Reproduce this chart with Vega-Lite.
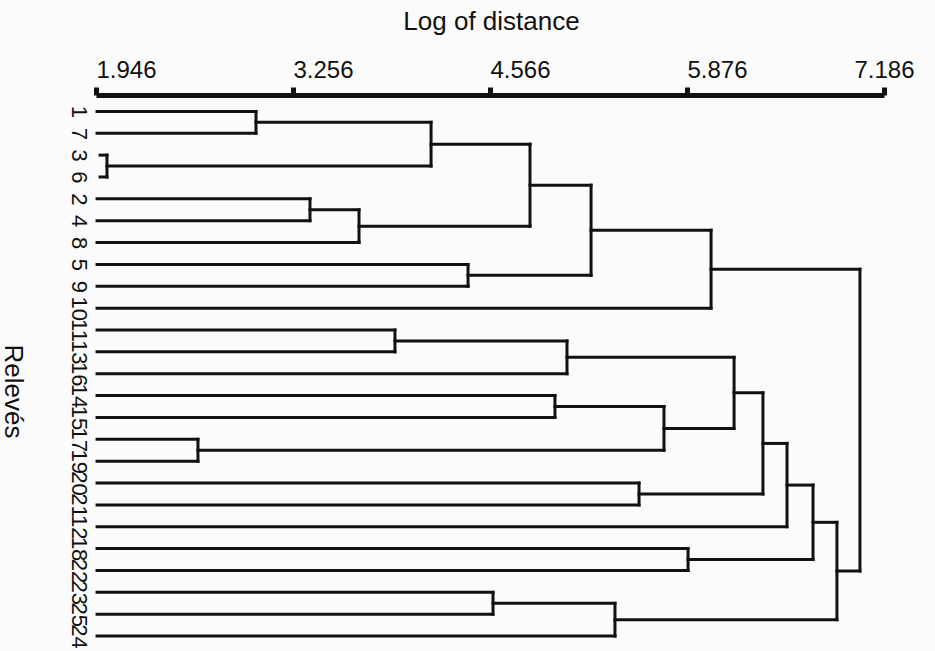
{
  "$schema": "https://vega.github.io/schema/vega-lite/v6.json",
  "autosize": "none",
  "padding": {"left": 96, "top": 95, "right": 51, "bottom": 4},
  "width": 788,
  "height": 552,
  "background": "#fbfbfb",
  "config": {"view": {"stroke": null}, "font": "Liberation Sans"},
  "data": {"values": [
    {"x1": 1.953, "x2": 3.010, "y1": 0, "y2": 0},
    {"x1": 1.953, "x2": 3.010, "y1": 1, "y2": 1},
    {"x1": 1.973, "x2": 2.019, "y1": 2, "y2": 2},
    {"x1": 1.973, "x2": 2.019, "y1": 3, "y2": 3},
    {"x1": 1.953, "x2": 3.369, "y1": 4, "y2": 4},
    {"x1": 1.953, "x2": 3.369, "y1": 5, "y2": 5},
    {"x1": 1.953, "x2": 3.695, "y1": 6, "y2": 6},
    {"x1": 1.953, "x2": 4.420, "y1": 7, "y2": 7},
    {"x1": 1.953, "x2": 4.420, "y1": 8, "y2": 8},
    {"x1": 1.953, "x2": 6.036, "y1": 9, "y2": 9},
    {"x1": 1.953, "x2": 3.934, "y1": 10, "y2": 10},
    {"x1": 1.953, "x2": 3.934, "y1": 11, "y2": 11},
    {"x1": 1.953, "x2": 5.078, "y1": 12, "y2": 12},
    {"x1": 1.953, "x2": 4.998, "y1": 13, "y2": 13},
    {"x1": 1.953, "x2": 4.998, "y1": 14, "y2": 14},
    {"x1": 1.953, "x2": 2.624, "y1": 15, "y2": 15},
    {"x1": 1.953, "x2": 2.624, "y1": 16, "y2": 16},
    {"x1": 1.953, "x2": 5.557, "y1": 17, "y2": 17},
    {"x1": 1.953, "x2": 5.557, "y1": 18, "y2": 18},
    {"x1": 1.953, "x2": 6.541, "y1": 19, "y2": 19},
    {"x1": 1.953, "x2": 5.883, "y1": 20, "y2": 20},
    {"x1": 1.953, "x2": 5.883, "y1": 21, "y2": 21},
    {"x1": 1.953, "x2": 4.586, "y1": 22, "y2": 22},
    {"x1": 1.953, "x2": 4.586, "y1": 23, "y2": 23},
    {"x1": 1.953, "x2": 5.397, "y1": 24, "y2": 24},
    {"x1": 3.010, "x2": 4.174, "y1": 0.5, "y2": 0.5},
    {"x1": 2.019, "x2": 4.174, "y1": 2.5, "y2": 2.5},
    {"x1": 4.174, "x2": 4.832, "y1": 1.5, "y2": 1.5},
    {"x1": 3.369, "x2": 3.695, "y1": 4.5, "y2": 4.5},
    {"x1": 3.695, "x2": 4.832, "y1": 5.25, "y2": 5.25},
    {"x1": 4.832, "x2": 5.238, "y1": 3.375, "y2": 3.375},
    {"x1": 4.420, "x2": 5.238, "y1": 7.5, "y2": 7.5},
    {"x1": 5.238, "x2": 6.036, "y1": 5.4375, "y2": 5.4375},
    {"x1": 6.036, "x2": 7.026, "y1": 7.21875, "y2": 7.21875},
    {"x1": 3.934, "x2": 5.078, "y1": 10.5, "y2": 10.5},
    {"x1": 5.078, "x2": 6.189, "y1": 11.25, "y2": 11.25},
    {"x1": 4.998, "x2": 5.723, "y1": 13.5, "y2": 13.5},
    {"x1": 2.624, "x2": 5.723, "y1": 15.5, "y2": 15.5},
    {"x1": 5.723, "x2": 6.189, "y1": 14.5, "y2": 14.5},
    {"x1": 6.189, "x2": 6.381, "y1": 12.875, "y2": 12.875},
    {"x1": 5.557, "x2": 6.381, "y1": 17.5, "y2": 17.5},
    {"x1": 6.381, "x2": 6.541, "y1": 15.1875, "y2": 15.1875},
    {"x1": 6.541, "x2": 6.714, "y1": 17.09375, "y2": 17.09375},
    {"x1": 5.883, "x2": 6.714, "y1": 20.5, "y2": 20.5},
    {"x1": 6.714, "x2": 6.873, "y1": 18.796875, "y2": 18.796875},
    {"x1": 4.586, "x2": 5.397, "y1": 22.5, "y2": 22.5},
    {"x1": 5.397, "x2": 6.873, "y1": 23.25, "y2": 23.25},
    {"x1": 6.873, "x2": 7.026, "y1": 21.0234, "y2": 21.0234},
    {"x1": 3.010, "x2": 3.010, "y1": 0, "y2": 1},
    {"x1": 2.019, "x2": 2.019, "y1": 2, "y2": 3},
    {"x1": 4.174, "x2": 4.174, "y1": 0.5, "y2": 2.5},
    {"x1": 3.369, "x2": 3.369, "y1": 4, "y2": 5},
    {"x1": 3.695, "x2": 3.695, "y1": 4.5, "y2": 6},
    {"x1": 4.832, "x2": 4.832, "y1": 1.5, "y2": 5.25},
    {"x1": 4.420, "x2": 4.420, "y1": 7, "y2": 8},
    {"x1": 5.238, "x2": 5.238, "y1": 3.375, "y2": 7.5},
    {"x1": 6.036, "x2": 6.036, "y1": 5.4375, "y2": 9},
    {"x1": 3.934, "x2": 3.934, "y1": 10, "y2": 11},
    {"x1": 5.078, "x2": 5.078, "y1": 10.5, "y2": 12},
    {"x1": 4.998, "x2": 4.998, "y1": 13, "y2": 14},
    {"x1": 2.624, "x2": 2.624, "y1": 15, "y2": 16},
    {"x1": 5.723, "x2": 5.723, "y1": 13.5, "y2": 15.5},
    {"x1": 6.189, "x2": 6.189, "y1": 11.25, "y2": 14.5},
    {"x1": 5.557, "x2": 5.557, "y1": 17, "y2": 18},
    {"x1": 6.381, "x2": 6.381, "y1": 12.875, "y2": 17.5},
    {"x1": 6.541, "x2": 6.541, "y1": 15.1875, "y2": 19},
    {"x1": 5.883, "x2": 5.883, "y1": 20, "y2": 21},
    {"x1": 6.714, "x2": 6.714, "y1": 17.09375, "y2": 20.5},
    {"x1": 4.586, "x2": 4.586, "y1": 22, "y2": 23},
    {"x1": 5.397, "x2": 5.397, "y1": 22.5, "y2": 24},
    {"x1": 6.873, "x2": 6.873, "y1": 18.796875, "y2": 23.25},
    {"x1": 7.026, "x2": 7.026, "y1": 7.21875, "y2": 21.0234}
  ]},
  "mark": {"type": "rule", "color": "#111111", "strokeWidth": 3, "strokeCap": "square"},
  "encoding": {
    "x": {
      "field": "x1", "type": "quantitative",
      "scale": {"domain": [1.946, 7.186], "nice": false, "zero": false},
      "axis": {
        "orient": "top",
        "title": "Log of distance",
        "titleFontSize": 26, "titleFontWeight": "normal", "titleColor": "#111111",
        "titleX": 395, "titleY": -74, "titleAlign": "center", "titleBaseline": "middle",
        "values": [1.946, 3.256, 4.566, 5.876, 7.186],
        "format": ".3f",
        "labelFontSize": 24, "labelColor": "#111111",
        "labelAlign": {"condition": {"test": "datum.value > 7", "value": "center"}, "value": "left"},
        "labelBaseline": "bottom", "labelPadding": 5,
        "labelFlush": false, "labelOverlap": false, "labelBound": false,
        "domainColor": "#111111", "domainWidth": 5,
        "tickColor": "#111111", "tickWidth": 5, "tickSize": 8,
        "grid": false
      }
    },
    "x2": {"field": "x2"},
    "y": {
      "field": "y1", "type": "quantitative",
      "scale": {"domain": [-0.75, 24.5], "nice": false, "zero": false, "reverse": true},
      "axis": {
        "title": "Relevés",
        "titleFontSize": 26, "titleFontWeight": "normal", "titleColor": "#111111",
        "titleAngle": 90, "titleX": -84, "titleY": 296, "titleAlign": "center", "titleBaseline": "middle",
        "values": [0,1,2,3,4,5,6,7,8,9,10,11,12,13,14,15,16,17,18,19,20,21,22,23,24],
        "labelExpr": "['1','7','3','6','2','4','8','5','9','10','11','13','16','14','15','17','19','20','21','12','18','22','23','25','24'][datum.value]",
        "labelAngle": 90, "labelAlign": "center", "labelBaseline": "top",
        "labelFontSize": 22, "labelColor": "#111111", "labelPadding": 8,
        "labelOverlap": false,
        "domain": false, "ticks": false, "tickSize": 0, "grid": false
      }
    },
    "y2": {"field": "y2"}
  }
}
